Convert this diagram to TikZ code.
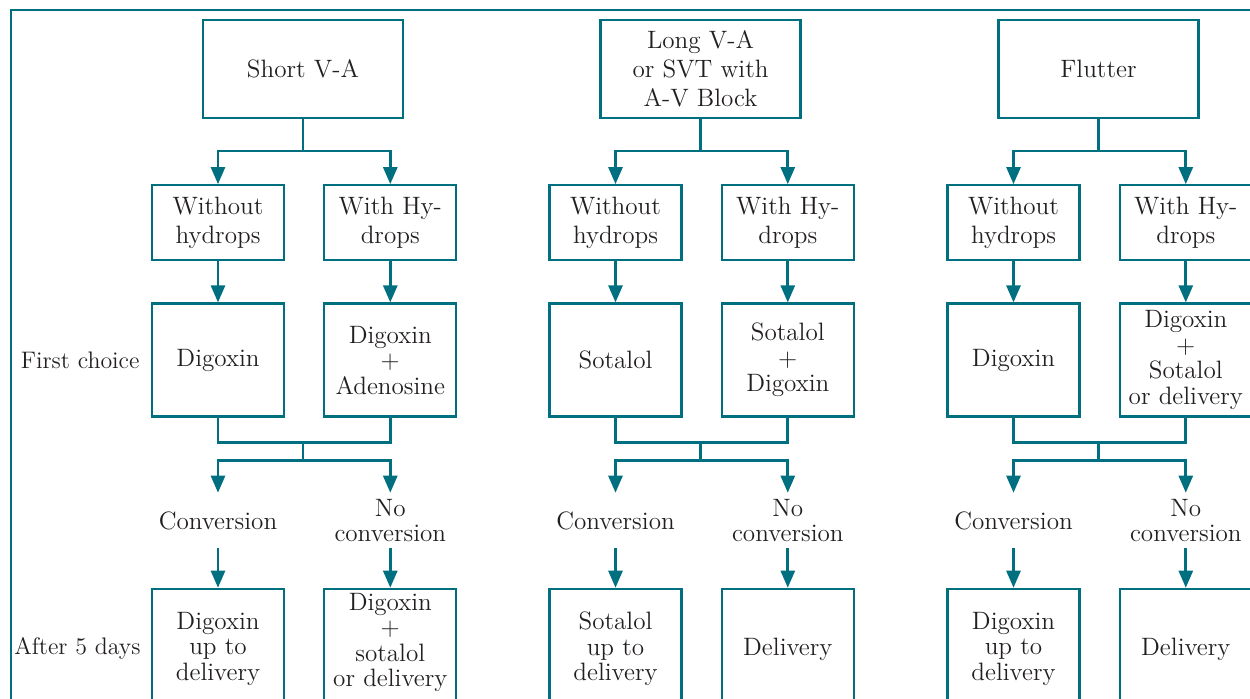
\documentclass[tikz,border=0pt]{standalone}
\usepackage{tikz}
\usepackage{xcolor}
\usetikzlibrary{positioning}
\usetikzlibrary{arrows.meta}

\definecolor{teal-line}{RGB}{0,112,128}
\definecolor{ink}{RGB}{35,31,32}

\begin{document}
\begin{tikzpicture}
[
every node/.style={font=\fontsize{14.3}{16.5}\selectfont, text=ink},
box-a/.style={draw=teal-line, line width=1.3pt, align=center, inner sep=2pt, minimum width=4cm, minimum height=1.96cm},
box-b/.style={box-a, minimum width=2.64cm, minimum height=1.5cm},
box-c/.style={box-a, minimum width=2.64cm, minimum height=2.26cm},
box-d/.style={box-a, minimum width=2.64cm, minimum height=2.4cm},
text-a/.style={align=center, inner sep=0pt, minimum height=1.1cm},
text-b/.style={inner sep=0pt, font=\fontsize{13.6}{16}\selectfont},
line-a/.style={draw=teal-line, line width=1.5pt},
arrow-a/.style={line-a, -{Triangle[width=0.28cm, length=0.34cm]}}
]
\useasboundingbox (0,0) rectangle (25,-13.96);
\clip (0,0) rectangle (25,-13.96);
\draw [line-a, line width=1.3pt] (0.22,-0.2) rectangle (26,-15);

% short V-A
\node (top-1)     [box-a] at (6.06,-1.38)                   {Short V-A};
\node (hyd-1a)    [box-b, below = 1.3cm of top-1, xshift=-1.7cm] {Without\\hydrops};
\node (hyd-1b)    [box-b, right = 0.76cm of hyd-1a ]        {With Hy-\\drops};
\node (drug-1a)   [box-c, below = 0.82cm of hyd-1a ]        {Digoxin};
\node (drug-1b)   [box-c, right = 0.76cm of drug-1a]        {Digoxin\\[-2pt]+\\[-2pt]Adenosine};
\node (res-1a)    [text-a, below = 1.5cm of drug-1a]        {Conversion};
\node (res-1b)    [text-a, below = 1.5cm of drug-1b]        {No\\[-2pt]conversion};
\node (after-1a)  [box-d, below = 3.4cm of drug-1a ]        {Digoxin\\[-2pt]up to\\[-2pt]delivery};
\node (after-1b)  [box-d, below = 3.4cm of drug-1b, text depth=10pt] {Digoxin\\[-2pt]+\\[-2pt]sotalol\\[-2pt]or delivery};
\node (first-lab) [text-b, left = 0.22cm of drug-1a]        {First choice};
\node (after-lab) [text-b, left = 0.2cm of after-1a]        {After 5 days};
\coordinate [below = 0.64cm of top-1] (split-1);
\coordinate [below = 0.5cm of drug-1a, xshift=1.7cm] (hub-1);
\coordinate [below = 0.36cm of hub-1] (fork-1);
\draw [line-a ] (top-1) -- (split-1);
\draw [arrow-a] (split-1) -| (hyd-1a);
\draw [arrow-a] (split-1) -| (hyd-1b);
\draw [arrow-a] (hyd-1a) -- (drug-1a);
\draw [arrow-a] (hyd-1b) -- (drug-1b);
\draw [line-a ] (drug-1a) |- (hub-1) -| (drug-1b);
\draw [line-a ] (hub-1) -- (fork-1);
\draw [arrow-a] (fork-1) -| (res-1a);
\draw [arrow-a] (fork-1) -| (res-1b);
\draw [arrow-a] (res-1a) -- (after-1a);
\draw [arrow-a] (res-1b) -- (after-1b);

% long V-A
\node (top-2)     [box-a] at (14.01,-1.38)                  {Long V-A\\or SVT with\\A-V Block};
\node (hyd-2a)    [box-b, below = 1.3cm of top-2, xshift=-1.7cm] {Without\\hydrops};
\node (hyd-2b)    [box-b, right = 0.76cm of hyd-2a ]        {With Hy-\\drops};
\node (drug-2a)   [box-c, below = 0.82cm of hyd-2a ]        {Sotalol};
\node (drug-2b)   [box-c, right = 0.76cm of drug-2a]        {Sotalol\\[-2pt]+\\[-2pt]Digoxin};
\node (res-2a)    [text-a, below = 1.5cm of drug-2a]        {Conversion};
\node (res-2b)    [text-a, below = 1.5cm of drug-2b]        {No\\[-2pt]conversion};
\node (after-2a)  [box-d, below = 3.4cm of drug-2a ]        {Sotalol\\[-2pt]up to\\[-2pt]delivery};
\node (after-2b)  [box-d, below = 3.4cm of drug-2b ]        {Delivery};
\coordinate [below = 0.64cm of top-2] (split-2);
\coordinate [below = 0.5cm of drug-2a, xshift=1.7cm] (hub-2);
\coordinate [below = 0.36cm of hub-2] (fork-2);
\draw [line-a ] (top-2) -- (split-2);
\draw [arrow-a] (split-2) -| (hyd-2a);
\draw [arrow-a] (split-2) -| (hyd-2b);
\draw [arrow-a] (hyd-2a) -- (drug-2a);
\draw [arrow-a] (hyd-2b) -- (drug-2b);
\draw [line-a ] (drug-2a) |- (hub-2) -| (drug-2b);
\draw [line-a ] (hub-2) -- (fork-2);
\draw [arrow-a] (fork-2) -| (res-2a);
\draw [arrow-a] (fork-2) -| (res-2b);
\draw [arrow-a] (res-2a) -- (after-2a);
\draw [arrow-a] (res-2b) -- (after-2b);

% flutter
\node (top-3)     [box-a] at (21.97,-1.38)                  {Flutter};
\node (hyd-3a)    [box-b, below = 1.3cm of top-3, xshift=-1.7cm] {Without\\hydrops};
\node (hyd-3b)    [box-b, right = 0.76cm of hyd-3a ]        {With Hy-\\drops};
\node (drug-3a)   [box-c, below = 0.82cm of hyd-3a ]        {Digoxin};
\node (drug-3b)   [box-c, right = 0.76cm of drug-3a]        {Digoxin\\[-2pt]+\\[-2pt]Sotalol\\[-2pt]or delivery};
\node (res-3a)    [text-a, below = 1.5cm of drug-3a]        {Conversion};
\node (res-3b)    [text-a, below = 1.5cm of drug-3b]        {No\\[-2pt]conversion};
\node (after-3a)  [box-d, below = 3.4cm of drug-3a ]        {Digoxin\\[-2pt]up to\\[-2pt]delivery};
\node (after-3b)  [box-d, below = 3.4cm of drug-3b ]        {Delivery};
\coordinate [below = 0.64cm of top-3] (split-3);
\coordinate [below = 0.5cm of drug-3a, xshift=1.7cm] (hub-3);
\coordinate [below = 0.36cm of hub-3] (fork-3);
\draw [line-a ] (top-3) -- (split-3);
\draw [arrow-a] (split-3) -| (hyd-3a);
\draw [arrow-a] (split-3) -| (hyd-3b);
\draw [arrow-a] (hyd-3a) -- (drug-3a);
\draw [arrow-a] (hyd-3b) -- (drug-3b);
\draw [line-a ] (drug-3a) |- (hub-3) -| (drug-3b);
\draw [line-a ] (hub-3) -- (fork-3);
\draw [arrow-a] (fork-3) -| (res-3a);
\draw [arrow-a] (fork-3) -| (res-3b);
\draw [arrow-a] (res-3a) -- (after-3a);
\draw [arrow-a] (res-3b) -- (after-3b);
\end{tikzpicture}
\end{document}
